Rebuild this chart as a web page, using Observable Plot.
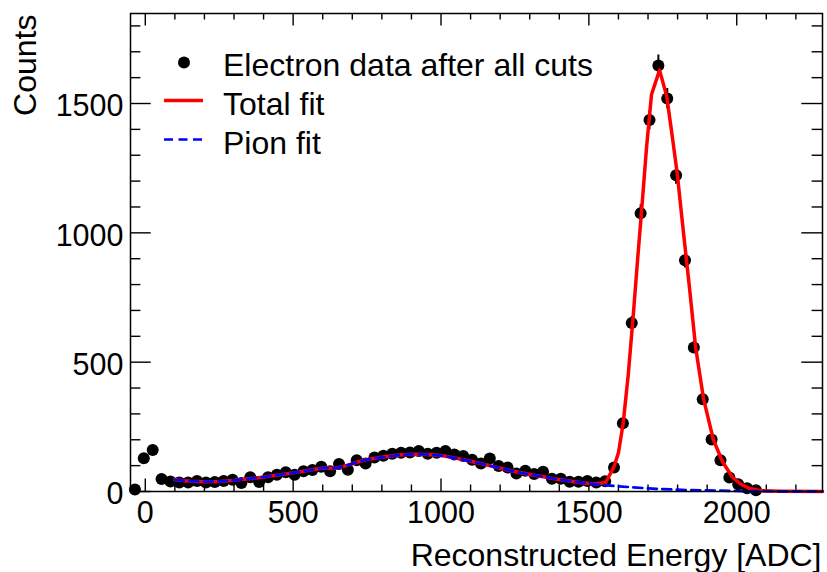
<!DOCTYPE html>
<html>
<head>
<meta charset="utf-8">
<script src="https://cdn.jsdelivr.net/npm/d3@7"></script>
<script src="https://cdn.jsdelivr.net/npm/@observablehq/plot@0.6"></script>
<style>
html, body { margin: 0; padding: 0; background: #ffffff; }
#chart { width: 827px; height: 572px; }
</style>
</head>
<body>
<div id="chart"></div>
<script>
// ---- data ----
const binCenter = [-35,-5,25,55,85,115,145,175,205,235,265,295,325,355,385,415,445,475,505,535,565,595,625,655,685,715,745,775,805,835,865,895,925,955,985,1015,1045,1075,1105,1135,1165,1195,1225,1255,1285,1315,1345,1375,1405,1435,1465,1495,1525,1555,1585,1615,1645,1675,1705,1735,1765,1795,1825,1855,1885,1915,1945,1975,2005,2035,2065];
const counts = [8,129,160,48,39,35,35,41,35,37,41,45,33,55,37,55,65,74,65,78,83,96,78,106,84,121,108,131,138,146,150,151,157,146,150,157,143,137,123,108,128,99,93,70,80,68,76,49,49,38,38,41,35,40,93,264,651,1076,1436,1647,1519,1223,894,557,357,201,121,54,28,13,5];

const totalFitX = [100,150,200,250,300,350,400,450,500,550,600,640,680,720,760,800,850,900,950,1000,1050,1100,1150,1200,1250,1300,1350,1400,1450,1500,1525,1557,1584,1600,1616,1633,1650,1665,1680,1695,1712,1739,1763,1780,1799,1820,1840,1861,1888,1921,1952,1985,2013,2041,2081,2150,2290];
const totalFitY = [45,40,38,39,43,49,56,64,72,81,91,89,100,115,126,132,140,144,143,139,129,117,104,90,77,66,56,46,38,31,30,35,93,150,264,450,680,900,1110,1330,1536,1629,1529,1390,1227,1000,790,557,357,200,115,56,29,13,3,1,0.3];

const pionFitX = [100,150,200,250,300,350,400,450,500,550,600,640,680,720,760,800,850,900,950,1000,1050,1100,1150,1200,1250,1300,1350,1400,1450,1500,1550,1600,1650,1700,1750,1800,1850,1900,1950,2000,2100,2200,2290];
const pionFitY = [45,40,38,39,43,49,56,64,72,81,91,89,100,115,126,132,140,144,143,139,129,117,104,90,77,66,56,46,38,31,25,20,16,12,9,7,5,4,3,2,1,0.5,0.3];

const xMajorTicks = [0,500,1000,1500,2000];
const xMinorTicks = [100,200,300,400,600,700,800,900,1100,1200,1300,1400,1600,1700,1800,1900,2100,2200];
const yMajorTicks = [0,500,1000,1500];
const yMinorTicks = [100,200,300,400,600,700,800,900,1100,1200,1300,1400,1600,1700,1800];

const legendLabels = ["Electron data after all cuts", "Total fit", "Pion fit"];
const xTitle = "Reconstructed Energy [ADC]";
const yTitle = "Counts";

// ---- layout ----
const W = 827, H = 572;
const mL = 130, mR = 5, mT = 13, mB = 81;
const frameW = W - mL - mR, frameH = H - mT - mB;
const FONT = "'Liberation Sans', Arial, Helvetica, sans-serif";

const points = binCenter.map((x, i) => ({x, y: counts[i], err: Math.sqrt(counts[i])}));
const total = totalFitX.map((x, i) => ({x, y: totalFitY[i]}));
const pion = pionFitX.map((x, i) => ({x, y: pionFitY[i]}));

const chart = Plot.plot({
  width: W, height: H,
  marginLeft: mL, marginRight: mR, marginTop: mT, marginBottom: mB,
  style: {fontFamily: FONT, fontSize: "30.5px", background: "#ffffff", color: "#000000"},
  x: {domain: [-50, 2290]},
  y: {domain: [0, 1848]},
  marks: [
    Plot.axisX(xMajorTicks, {tickSize: 0, tickPadding: 9.6, label: null, tickFormat: d => String(d)}),
    Plot.axisY(yMajorTicks, {tickSize: 0, tickPadding: 7, dy: 3, label: null, tickFormat: d => String(d)}),
    // inward ticks on all four sides (ROOT style)
    Plot.tickX(xMajorTicks, {x: d => d, insetTop: frameH - 12.5, stroke: "#000", strokeWidth: 1.4}),
    Plot.tickX(xMinorTicks, {x: d => d, insetTop: frameH - 6.5, stroke: "#000", strokeWidth: 1.4}),
    Plot.tickX(xMajorTicks, {x: d => d, insetBottom: frameH - 12.5, stroke: "#000", strokeWidth: 1.4}),
    Plot.tickX(xMinorTicks, {x: d => d, insetBottom: frameH - 6.5, stroke: "#000", strokeWidth: 1.4}),
    Plot.tickY(yMajorTicks, {y: d => d, insetRight: frameW - 20.7, stroke: "#000", strokeWidth: 1.4}),
    Plot.tickY(yMinorTicks, {y: d => d, insetRight: frameW - 10.4, stroke: "#000", strokeWidth: 1.4}),
    Plot.tickY(yMajorTicks, {y: d => d, insetLeft: frameW - 20.7, stroke: "#000", strokeWidth: 1.4}),
    Plot.tickY(yMinorTicks, {y: d => d, insetLeft: frameW - 10.4, stroke: "#000", strokeWidth: 1.4}),
    // data
    Plot.ruleX(points, {x: "x", y1: d => d.y - d.err, y2: d => d.y + d.err, stroke: "#000", strokeWidth: 2}),
    Plot.dot(points, {x: "x", y: "y", r: 6, fill: "#000", stroke: "none"}),
    Plot.line(total, {x: "x", y: "y", stroke: "#ff0000", strokeWidth: 3.5, curve: "linear"}),
    Plot.line(pion, {x: "x", y: "y", stroke: "#0000ff", strokeWidth: 2.7, strokeDasharray: "9,5.5", curve: "linear"}),
    Plot.frame({stroke: "#000", strokeWidth: 1.5}),
    // titles
    Plot.text([yTitle], {frameAnchor: "top-left", rotate: -90, textAnchor: "end", lineAnchor: "bottom", dx: -95, dy: 1, fontSize: 32, fill: "#000"}),
    Plot.text([xTitle], {frameAnchor: "bottom-right", textAnchor: "end", lineAnchor: "bottom", dx: -1, dy: 74.3, fontSize: 32, fill: "#000"})
  ]
});
document.getElementById("chart").appendChild(chart);

// ---- legend ----
const svg = d3.select(chart);
const lg = svg.append("g").attr("font-family", FONT).attr("font-size", "32px")
  .attr("fill", "#000").attr("text-anchor", "start");
lg.append("circle").attr("cx", 184).attr("cy", 62.5).attr("r", 6).attr("fill", "#000");
lg.append("line").attr("x1", 164).attr("x2", 203).attr("y1", 100.5).attr("y2", 100.5)
  .attr("stroke", "#ff0000").attr("stroke-width", 3.5);
lg.append("line").attr("x1", 164).attr("x2", 203).attr("y1", 139.5).attr("y2", 139.5)
  .attr("stroke", "#0000ff").attr("stroke-width", 2.7).attr("stroke-dasharray", "9,5.5");
const baselines = [76, 115, 154];
legendLabels.forEach((t, i) => {
  lg.append("text").attr("x", 223).attr("y", baselines[i]).attr("text-anchor", "start").text(t);
});
</script>
</body>
</html>
